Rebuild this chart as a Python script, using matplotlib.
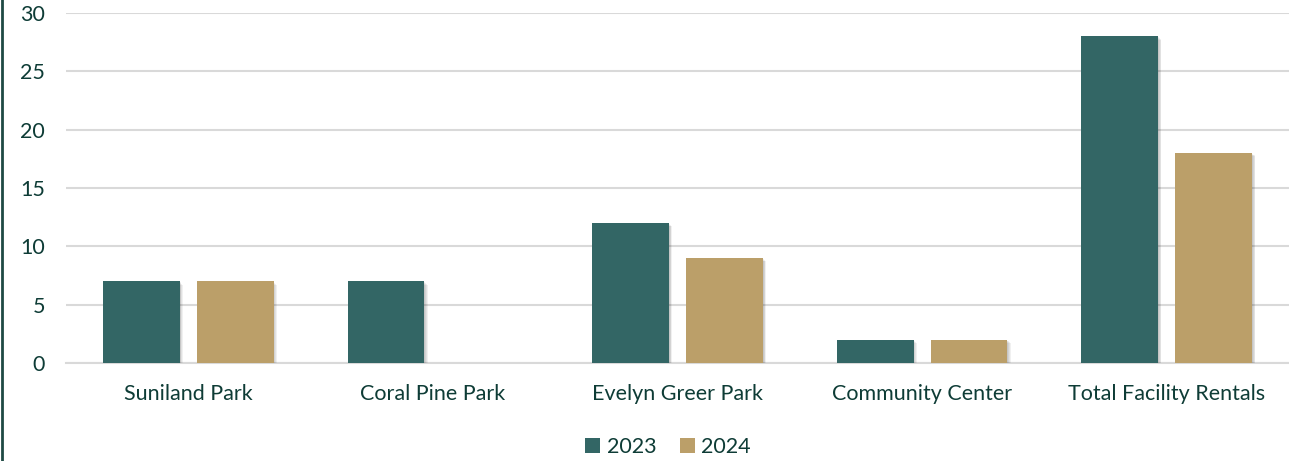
import matplotlib.pyplot as plt
import matplotlib.patheffects as pe
import numpy as np

plt.rcParams["font.family"] = ["Lato", "DejaVu Sans"]

# ── Data ───────────────────────────────────────────────────────────────────────
categories = ["Suniland Park", "Coral Pine Park", "Evelyn Greer Park",
              "Community Center", "Total Facility Rentals"]
rentals_2023 = [7, 7, 12, 2, 28]
rentals_2024 = [7, 0, 9, 2, 18]
series_labels = ["2023", "2024"]

# ── Style ──────────────────────────────────────────────────────────────────────
TEXT = "#0e3c36"
C23 = "#336665"
C24 = "#bb9f69"
GRID = "#d9d9d9"
FS = 15.5

fig = plt.figure(figsize=(12.89, 4.61), dpi=100)
ax = fig.add_axes([66 / 1289, 1 - 363 / 461, (1289 - 66) / 1289, 350 / 461])

x = np.arange(len(categories))
w = 0.314
off = 0.192
# soft drop shadow, built from a few faint offset copies
shadow = [pe.SimplePatchShadow(offset=(d, -d), shadow_rgbFace="#000000", alpha=0.06)
          for d in (0.6, 1.2, 1.8, 2.4)] + [pe.Normal()]
b1 = ax.bar(x - off, rentals_2023, w, color=C23, label=series_labels[0], zorder=3)
b2 = ax.bar(x + off, rentals_2024, w, color=C24, label=series_labels[1], zorder=3)
for bars in (b1, b2):
    for p in bars:
        if p.get_height() > 0:
            p.set_path_effects(shadow)

ax.set_xlim(-0.5, len(categories) - 0.5)
ax.set_ylim(0, 30)
ax.set_yticks(range(0, 31, 5))
ax.yaxis.grid(True, color=GRID, linewidth=1.5, zorder=0)
ax.set_axisbelow(True)
for s in ["top", "right", "left"]:
    ax.spines[s].set_visible(False)
ax.spines["bottom"].set_color(GRID)
ax.spines["bottom"].set_linewidth(1.5)
ax.set_xticks(x)
ax.set_xticklabels(categories)
ax.tick_params(axis="both", length=0, labelsize=FS, colors=TEXT)
ax.tick_params(axis="y", pad=15)
ax.tick_params(axis="x", pad=15)

leg = fig.legend(handles=[b1, b2], labels=series_labels, loc="center",
                 bbox_to_anchor=(668 / 1289, 1 - 447 / 461), ncol=2, frameon=False,
                 fontsize=FS, handlelength=0.7, handleheight=0.7,
                 handletextpad=0.3, columnspacing=1.1)
for t in leg.get_texts():
    t.set_color(TEXT)
for h in leg.legend_handles:
    h.set_path_effects([])

# left border line
fig.add_artist(plt.Line2D([2 / 1289, 2 / 1289], [0, 1], color="#1f4a44",
                          linewidth=2, transform=fig.transFigure))

fig.savefig("out.png", dpi=100)
